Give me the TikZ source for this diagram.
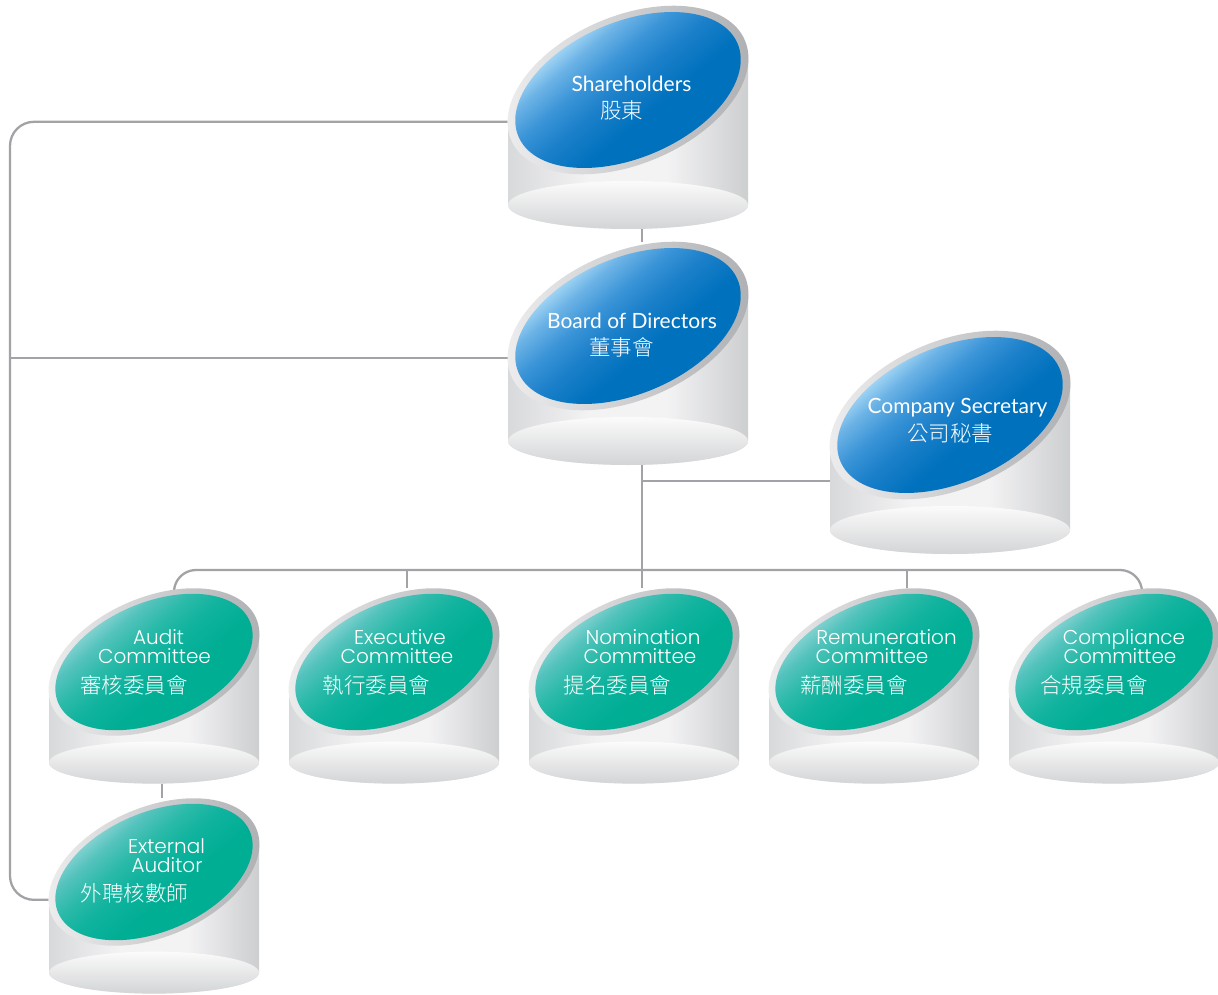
\documentclass[tikz,border=0pt]{standalone}
\usepackage{fontspec}
\newfontfamily\enfont{Lato}
\IfFontExistsTF{Poppins Light}{\newfontfamily\cmfont{Poppins Light}}{\newfontfamily\cmfont{Poppins}}
\IfFontExistsTF{Noto Sans CJK TC Light}{\newfontfamily\cjk{Noto Sans CJK TC Light}}{\newfontfamily\cjk{Noto Sans CJK TC}}
\usetikzlibrary{calc}

\definecolor{lineg}{HTML}{A2A3A6}
% cylinder body and base
\definecolor{kA}{HTML}{D8D9DB}
\definecolor{kB}{HTML}{F3F3F4}
\definecolor{kC}{HTML}{CDCED0}
\definecolor{btmA}{HTML}{FBFBFB}
\definecolor{btmB}{HTML}{F0F0F1}
\definecolor{btmC}{HTML}{D3D4D6}
\definecolor{rimA}{HTML}{EFEFF0}
\definecolor{rimB}{HTML}{ADAEB1}
% blue caps
\definecolor{bA}{HTML}{A9DAF6}
\definecolor{bB}{HTML}{6CB3E6}
\definecolor{bC}{HTML}{3A94D7}
\definecolor{bD}{HTML}{1C80CA}
\definecolor{bE}{HTML}{0071BD}
% green caps
\definecolor{gA}{HTML}{8AD4D4}
\definecolor{gB}{HTML}{55C3BD}
\definecolor{gC}{HTML}{2BBAA9}
\definecolor{gD}{HTML}{10B39E}
\definecolor{gE}{HTML}{00AE94}

\pgfdeclarehorizontalshading{unitbody}{100bp}{color(0bp)=(kA); color(25bp)=(kA); color(42bp)=(kB); color(58bp)=(kB); color(75bp)=(kC); color(100bp)=(kC)}
\pgfdeclarehorizontalshading{bluecap}{100bp}{color(0bp)=(bA); color(35bp)=(bA); color(39bp)=(bB); color(44bp)=(bC); color(49bp)=(bD); color(56bp)=(bE); color(100bp)=(bE)}
\pgfdeclarehorizontalshading{greencap}{100bp}{color(0bp)=(gA); color(35bp)=(gA); color(39bp)=(gB); color(44bp)=(gC); color(49bp)=(gD); color(56bp)=(gE); color(100bp)=(gE)}

\pgfdeclarelayer{background}
\pgfsetlayers{background,main}

% #1 name, #2 centre x, #3 centre y of the cap, #4 scale, #5 cap shading
\newcommand\orgunit[5]{%
  \begin{scope}[shift={(#2,#3)}, scale=#4]
    \shade[shading=unitbody] (-120,32) -- (-120,115)
      arc[start angle=180, end angle=0, x radius=120, y radius=24] -- (120,-32) -- cycle;
    \shade[top color=btmA, middle color=btmB, bottom color=btmC]
      (0,115) ellipse [x radius=120, y radius=24];
    \shade[rotate=23, left color=rimA, right color=rimB]
      (0,0) ellipse [x radius=127, y radius=74];
    \begin{scope}
      \clip[rotate=23] (0,0) ellipse [x radius=119, y radius=68];
      \shade[shading=#5, shading angle=-50] (-130,-130) rectangle (130,130);
    \end{scope}
    \node[inner sep=0, minimum width=#4*240pt, minimum height=#4*223pt] (#1) at (0,27.5) {};
    \coordinate (#1-l) at (-120.4,31.8);
  \end{scope}
}

\begin{document}
\begin{tikzpicture}[x=1pt, y=-1pt,
  conn/.style={draw=lineg, line width=2.3pt},
  entext/.style={text=white, font=\enfont\fontsize{21}{21}\selectfont, inner sep=0, anchor=base},
  cmtext/.style={text=white, font=\cmfont\fontsize{20}{20}\selectfont, inner sep=0, anchor=base},
  zhtext/.style={text=white, font=\cjk\fontsize{21.5}{21.5}\selectfont, inner sep=0, anchor=base}]
\useasboundingbox (0,0) rectangle (1218,995);

% units
\orgunit{sh}{628}{90}{1}{bluecap}
\orgunit{bd}{628}{326}{1}{bluecap}
\orgunit{cs}{950}{415}{1}{bluecap}
\orgunit{aud}{154}{662}{0.875}{greencap}
\orgunit{exe}{394}{662}{0.875}{greencap}
\orgunit{nom}{634}{662}{0.875}{greencap}
\orgunit{rem}{874}{662}{0.875}{greencap}
\orgunit{cmp}{1114}{662}{0.875}{greencap}
\orgunit{ext}{154}{872}{0.875}{greencap}

% labels
\node[entext] (sh-en) at (631.5,92) {Shareholders};
\node[zhtext] (sh-zh) at (621.5,118.5) {股東};
\node[entext] (bd-en) at (632,328) {Board of Directors};
\node[zhtext] (bd-zh) at (621.5,355.5) {董事會};
\node[entext] (cs-en) at (957.5,413) {Company Secretary};
\node[zhtext] (cs-zh) at (950,441.5) {公司秘書};

\node[cmtext] (aud-a) at (158.5,644) {Audit};
\node[cmtext] (aud-b) at (154.5,663) {Committee};
\node[zhtext] (aud-zh) at (134,693.5) {審核委員會};
\node[cmtext] (exe-a) at (400,644) {Executive};
\node[cmtext] (exe-b) at (397,663) {Committee};
\node[zhtext] (exe-zh) at (376.5,693.5) {執行委員會};
\node[cmtext] (nom-a) at (643,644) {Nomination};
\node[cmtext] (nom-b) at (640,663) {Committee};
\node[zhtext] (nom-zh) at (617.5,693.5) {提名委員會};
\node[cmtext] (rem-a) at (886.5,644) {Remuneration};
\node[cmtext] (rem-b) at (872,663) {Committee};
\node[zhtext] (rem-zh) at (854,693.5) {薪酬委員會};
\node[cmtext] (cmp-a) at (1124,644) {Compliance};
\node[cmtext] (cmp-b) at (1120,663) {Committee};
\node[zhtext] (cmp-zh) at (1094,693.5) {合規委員會};
\node[cmtext] (ext-a) at (166.5,853) {External};
\node[cmtext] (ext-b) at (167,872) {Auditor};
\node[zhtext] (ext-zh) at (134.5,901.5) {外聘核數師};

% connectors, behind the units
\coordinate (rail) at (10,500);
\coordinate (bus) at (642,570);
\coordinate (csj) at (642,481);
\begin{pgfonlayer}{background}
  \draw[conn, rounded corners=24pt] (sh-l) -- (sh-l -| rail) -- (ext-l -| rail) -- (ext-l);
  \draw[conn] (bd-l) -- (bd-l -| rail);
  \draw[conn] ([xshift=14pt]sh.south) -- ([xshift=14pt]bd.north);
  \draw[conn] ([xshift=14pt]bd.south) -- (bus);
  \draw[conn] (csj) -- (csj -| cs.west);
  \draw[conn, rounded corners=22pt] ([xshift=20pt,yshift=-12pt]aud.north) |- (bus)
    -| ([xshift=28pt,yshift=-12pt]cmp.north);
  \draw[conn] ([xshift=13pt]exe.north) |- (bus);
  \draw[conn] ([xshift=8pt]nom.north) |- (bus);
  \draw[conn] ([xshift=33pt]rem.north) |- (bus);
  \draw[conn] ([xshift=8pt]aud.south) -- ([xshift=8pt]ext.north);
\end{pgfonlayer}
\end{tikzpicture}
\end{document}
